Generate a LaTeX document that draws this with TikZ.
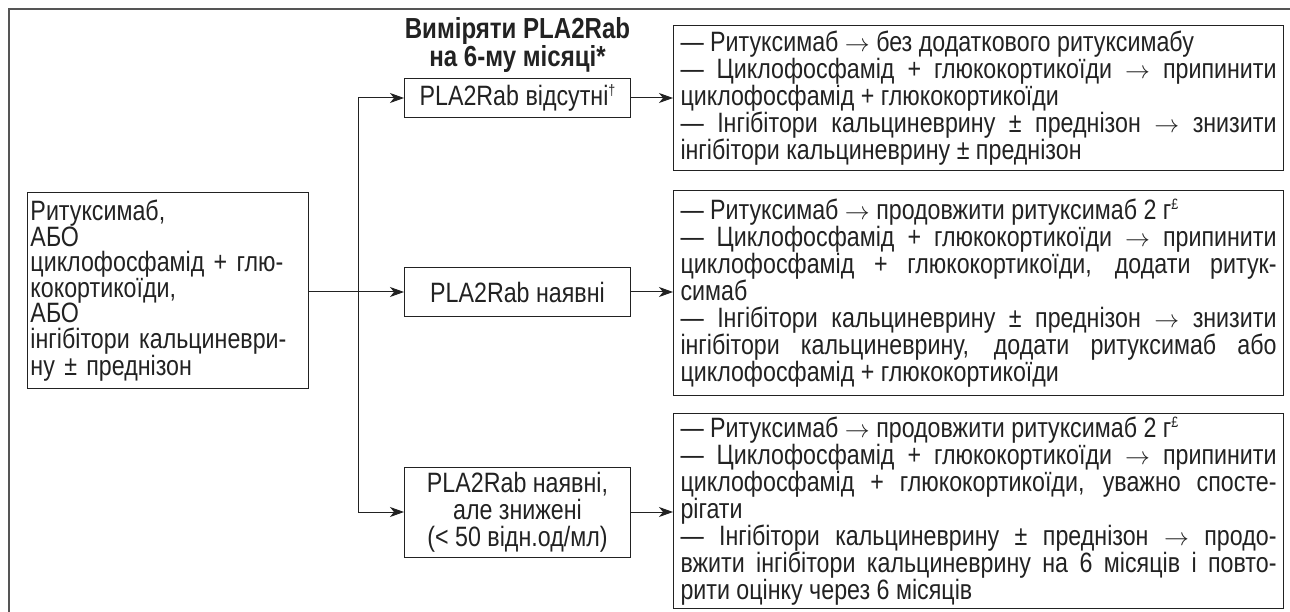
\documentclass[tikz,border=0pt]{standalone}
\usepackage{fontspec}
\setmainfont{Liberation Sans}[FakeStretch=0.83]
\usetikzlibrary{positioning, arrows.meta}

\definecolor{ink}{HTML}{222222}
\definecolor{framegray}{HTML}{555555}

\newcommand{\supmark}[1]{\raisebox{0.36em}{\fontsize{15}{15}\selectfont #1}}
\newcommand{\arrowto}{{\fontsize{24}{24}\selectfont$\rightarrow$}}

\tikzset{
	box/.style = {draw = ink, line width = 1pt, inner xsep = 3pt, inner ysep = 0pt},
	planbox/.style = {box, inner xsep = 7pt, text width = 596pt, align = justify},
	link/.style = {draw = ink, line width = 1pt},
	tip/.style = {link, -{Stealth[length = 14pt, width = 10pt, inset = 4pt]}}
}

\begin{document}
\begin{tikzpicture}[x = 1pt, y = -1pt, font = \fontsize{28}{27}\selectfont, text = ink]
	\clip (0,0) rectangle (1290,612);
	\draw [framegray, line width = 1.5pt] (9,9) rectangle (1320,640);

	% start therapy
	\node [box, anchor = north west, text width = 275pt, minimum height = 196pt, align = left,
		font = \fontsize{28}{25.5}\selectfont] (start) at (27,192)
		{Ритуксимаб,\\АБО\\циклофосфамід + глю-\\кокортикоїди,\\АБО\\інгібітори кальциневри-\\ну ± преднізон};

	% measurement at 6 months
	\node [box, anchor = west, minimum width = 226pt, minimum height = 39pt, align = center] (absent) at (404,98)
		{PLA2Rab відсутні\supmark{†}};
	\node [box, anchor = west, minimum width = 226pt, minimum height = 48pt, align = center] (present) at (404,292)
		{PLA2Rab наявні};
	\node [box, anchor = west, minimum width = 226pt, minimum height = 90pt, align = center] (reduced) at (404,512)
		{PLA2Rab наявні,\\але знижені\\(< 50 відн.од/мл)};

	\node [font = \fontsize{29}{28}\selectfont\bfseries, align = center, above = 2pt of absent] (title)
		{Виміряти PLA2Rab\\на 6-му місяці*};

	% plans
	\node [planbox, anchor = north west, minimum height = 145pt] (absentplan) at (673,25)
		{— Ритуксимаб \arrowto{} без додаткового ритуксимабу\\
		— Циклофосфамід + глюкокортикоїди \arrowto{} припинити\linebreak
		циклофосфамід + глюкокортикоїди\\
		— Інгібітори кальциневрину ± преднізон \arrowto{} знизити\linebreak
		інгібітори кальциневрину ± преднізон};
	\node [planbox, anchor = north west, minimum height = 205pt] (presentplan) at (673,190)
		{— Ритуксимаб \arrowto{} продовжити ритуксимаб 2 г\supmark{£}\\
		— Циклофосфамід + глюкокортикоїди \arrowto{} припинити\linebreak
		циклофосфамід + глюкокортикоїди, додати ритук-\linebreak
		симаб\\
		— Інгібітори кальциневрину ± преднізон \arrowto{} знизити\linebreak
		інгібітори кальциневрину, додати ритуксимаб або\linebreak
		циклофосфамід + глюкокортикоїди};
	\node [planbox, anchor = north west, minimum height = 195pt] (reducedplan) at (673,413)
		{— Ритуксимаб \arrowto{} продовжити ритуксимаб 2 г\supmark{£}\\
		— Циклофосфамід + глюкокортикоїди \arrowto{} припинити\linebreak
		циклофосфамід + глюкокортикоїди, уважно спосте-\linebreak
		рігати\\
		— Інгібітори кальциневрину ± преднізон \arrowto{} продо-\linebreak
		вжити інгібітори кальциневрину на 6 місяців і повто-\linebreak
		рити оцінку через 6 місяців};

	% connectors
	\coordinate (trunk) at (358,0);
	\draw [link] (trunk |- absent.west) -- (trunk |- reduced.west);
	\draw [tip] (start.east |- present.west) -- (present.west);
	\draw [tip] (trunk |- absent.west) -- (absent.west);
	\draw [tip] (trunk |- reduced.west) -- (reduced.west);

	\draw [tip] (absent.east) -- (absent.east -| absentplan.west);
	\draw [tip] (present.east) -- (present.east -| presentplan.west);
	\draw [tip] (reduced.east) -- (reduced.east -| reducedplan.west);
\end{tikzpicture}
\end{document}
